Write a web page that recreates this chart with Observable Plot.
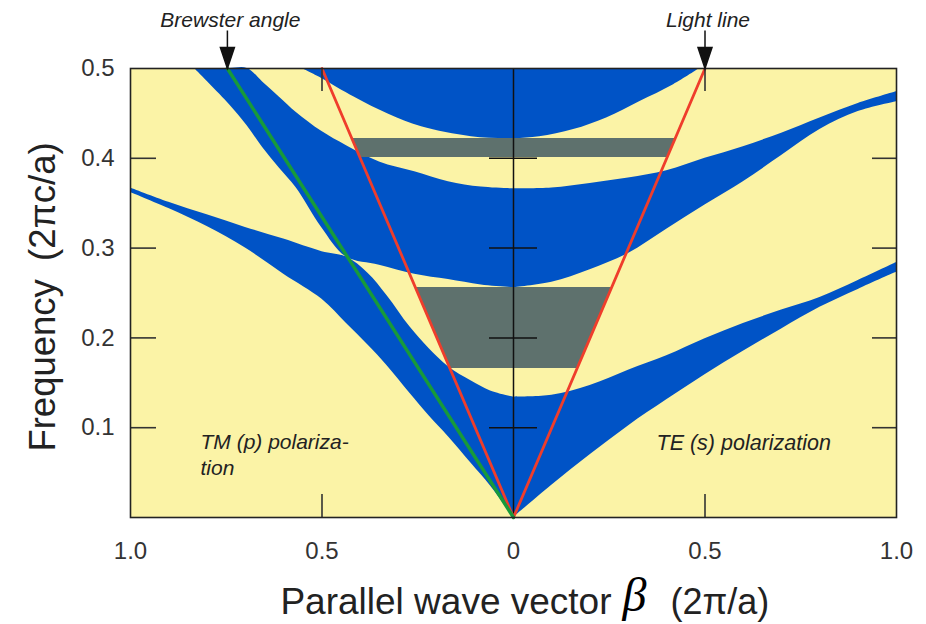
<!DOCTYPE html>
<html>
<head>
<meta charset="utf-8">
<script src="https://cdn.jsdelivr.net/npm/d3@7"></script>
<script src="https://cdn.jsdelivr.net/npm/@observablehq/plot@0.6"></script>
<style>
  html, body { margin: 0; padding: 0; background: #ffffff; }
  #chart { width: 926px; height: 624px; }
</style>
</head>
<body>
<div id="chart"></div>
<script>
// Axis ticks (x: parallel wave vector β in 2π/a, negative side = TM; y: frequency in 2πc/a)
const xTicks = [-1, -0.5, 0, 0.5, 1];
const yTicks = [0.1, 0.2, 0.3, 0.4, 0.5];
const innerYTicks = [0.1, 0.2, 0.3, 0.4];
const innerXTicks = [-0.5, 0.5];

// Allowed bands: [β, lower edge, upper edge]
const tmBand1 = [
  [-1.0, 0.362, 0.367], [-0.9, 0.344, 0.351], [-0.8, 0.324, 0.337], [-0.7, 0.300, 0.323],
  [-0.6, 0.271, 0.310], [-0.5, 0.243, 0.296], [-0.436, 0.216, 0.290], [-0.38, 0.192, 0.272],
  [-0.33, 0.169, 0.247], [-0.27, 0.138, 0.212], [-0.22, 0.113, 0.188], [-0.17, 0.090, 0.168],
  [-0.11, 0.060, 0.152], [-0.06, 0.035, 0.141], [0, 0, 0.134]
];
const tmBand2 = [
  [-0.833, 0.500, 0.500], [-0.742, 0.460, 0.500], [-0.695, 0.436, 0.500], [-0.655, 0.412, 0.485],
  [-0.611, 0.389, 0.468], [-0.567, 0.367, 0.451], [-0.501, 0.323, 0.430], [-0.436, 0.290, 0.414],
  [-0.35, 0.281, 0.396], [-0.258, 0.271, 0.385], [-0.17, 0.265, 0.374], [-0.084, 0.259, 0.368],
  [0, 0.256, 0.366]
];
const band3 = [
  [-0.552, 0.500, 0.5], [-0.501, 0.489, 0.5], [-0.415, 0.468, 0.5], [-0.326, 0.449, 0.5],
  [-0.240, 0.435, 0.5], [-0.110, 0.424, 0.5], [0, 0.422, 0.5], [0.068, 0.424, 0.5],
  [0.157, 0.432, 0.5], [0.243, 0.445, 0.5], [0.329, 0.463, 0.5], [0.418, 0.482, 0.5],
  [0.486, 0.500, 0.5]
];
const teBand1 = [
  [0, 0, 0.134], [0.1, 0.036, 0.136], [0.2, 0.070, 0.147], [0.3, 0.102, 0.164],
  [0.4, 0.131, 0.180], [0.5, 0.159, 0.199], [0.6, 0.185, 0.216], [0.7, 0.210, 0.231],
  [0.8, 0.234, 0.245], [0.9, 0.254, 0.264], [1.0, 0.273, 0.284]
];
const teBand2 = [
  [0, 0.256, 0.366], [0.1, 0.262, 0.367], [0.2, 0.276, 0.372], [0.3, 0.294, 0.378],
  [0.4, 0.321, 0.386], [0.5, 0.348, 0.400], [0.6, 0.374, 0.413], [0.7, 0.403, 0.428],
  [0.8, 0.432, 0.445], [0.9, 0.452, 0.461], [1.0, 0.463, 0.474]
];

// Omnidirectional gaps [bottom, top], bounded by the light lines
const gaps = [[0.166, 0.256], [0.401, 0.422]];

// Reference lines
const lightLine = [[-0.5, 0.5], [0, 0], [0.5, 0.5]];
const brewsterLine = [[0, 0], [-0.747, 0.5]];

// Annotations
const arrowNotes = [
  {label: "Brewster angle", x: -0.747},
  {label: "Light line", x: 0.5}
];
const tmLabel = "TM (p) polariza-\ntion";
const teLabel = "TE (s) polarization";
const yTitle = "Frequency\u2002(2\u03c0c/a)";
const xTitleParts = ["Parallel wave vector", "\u03b2", "(2\u03c0/a)"];

const C = {
  yellow: "#fbf3a6",
  blue: "#0053c6",
  gray: "#5e716d",
  red: "#ef3d2b",
  green: "#179a3a",
  ink: "#222222"
};

const gapPts = gaps.flatMap((g, i) => [{i, y: g[0]}, {i, y: g[1]}]);
const bands = [tmBand1, tmBand2, band3, teBand1, teBand2];

const arrowSymbol = {
  draw(ctx) {
    ctx.moveTo(0, -38);
    ctx.lineTo(0, -21);
    ctx.moveTo(-7, -21);
    ctx.lineTo(7, -21);
    ctx.lineTo(0, 0);
    ctx.closePath();
  }
};

const frameW = 766, frameH = 449;

const chart = Plot.plot({
  width: 926,
  height: 624,
  marginTop: 68,
  marginRight: 30,
  marginBottom: 107,
  marginLeft: 130,
  style: {fontFamily: "'Liberation Sans', Arial, sans-serif", fontSize: "24px", color: "#333", background: "transparent"},
  x: {domain: [-1, 1], ticks: xTicks, tickFormat: d => d === 0 ? "0" : Math.abs(d).toFixed(1), tickSize: 0, tickPadding: 24, label: null},
  y: {domain: [0, 0.5], ticks: yTicks, tickFormat: d => d.toFixed(1), tickSize: 0, tickPadding: 16, label: null},
  marks: [
    Plot.frame({fill: C.yellow}),
    ...bands.map(b => Plot.areaY(b, {x: d => d[0], y1: d => d[1], y2: d => d[2], fill: C.blue, curve: "catmull-rom"})),
    Plot.areaX(gapPts, {y: "y", x1: d => -d.y, x2: d => d.y, z: "i", fill: C.gray}),
    Plot.ruleX([0], {stroke: "#111", strokeWidth: 1.5}),
    Plot.tickY(innerYTicks, {y: d => d, insetLeft: frameW / 2 - 24, insetRight: frameW / 2 - 24, stroke: "#111", strokeWidth: 1.5}),
    Plot.line(lightLine, {x: d => d[0], y: d => d[1], stroke: C.red, strokeWidth: 2.8}),
    Plot.line(brewsterLine, {x: d => d[0], y: d => d[1], stroke: C.green, strokeWidth: 3.4}),
    Plot.tickY(innerYTicks, {y: d => d, insetRight: frameW - 26, stroke: "#333", strokeWidth: 1.6}),
    Plot.tickY(innerYTicks, {y: d => d, insetLeft: frameW - 24, stroke: "#333", strokeWidth: 1.6}),
    Plot.tickX(innerXTicks, {x: d => d, insetTop: frameH - 23, stroke: "#333", strokeWidth: 1.6}),
    Plot.tickX(innerXTicks, {x: d => d, insetBottom: frameH - 23, stroke: "#333", strokeWidth: 1.6}),
    Plot.frame({stroke: C.ink, strokeWidth: 1.6}),
    Plot.dot(arrowNotes, {x: "x", frameAnchor: "top", symbol: arrowSymbol, r: 5, fill: "#111", stroke: "#111", strokeWidth: 1.5}),
    Plot.text(arrowNotes, {x: "x", frameAnchor: "top", text: "label", dx: 3, dy: -42, lineAnchor: "bottom", fontSize: 21, fontStyle: "italic", fill: C.ink}),
    Plot.text([tmLabel], {text: d => d, frameAnchor: "bottom-left", textAnchor: "start", dx: 70, dy: -43, lineAnchor: "bottom", lineHeight: 1.22, fontSize: 21, fontStyle: "italic", fill: C.ink}),
    Plot.text([teLabel], {text: d => d, frameAnchor: "bottom-left", textAnchor: "start", dx: 526, dy: -68, lineAnchor: "bottom", fontSize: 21.5, fontStyle: "italic", fill: C.ink}),
    Plot.text([yTitle], {text: d => d, frameAnchor: "left", textAnchor: "middle", rotate: -90, dx: -76, dy: 4, lineAnchor: "bottom", fontSize: 36.5, fill: C.ink}),
    Plot.text([xTitleParts[0]], {text: d => d, frameAnchor: "bottom", textAnchor: "end", dx: 98, dy: 96, lineAnchor: "bottom", fontSize: 37, fill: C.ink}),
    Plot.text([xTitleParts[1]], {text: d => d, frameAnchor: "bottom", textAnchor: "middle", dx: 121, dy: 93, lineAnchor: "bottom", fontSize: 48, fontStyle: "italic", fontFamily: "'Liberation Serif', 'Times New Roman', serif", fill: "#000"}),
    Plot.text([xTitleParts[2]], {text: d => d, frameAnchor: "bottom", textAnchor: "start", dx: 157, dy: 96, lineAnchor: "bottom", fontSize: 36, fill: C.ink})
  ]
});

document.getElementById("chart").appendChild(chart);
</script>
</body>
</html>
